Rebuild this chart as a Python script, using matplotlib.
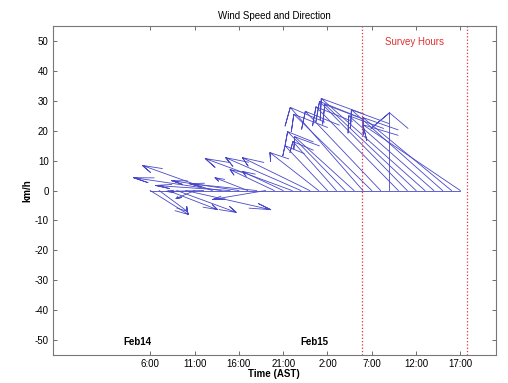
import numpy as np
import matplotlib
matplotlib.use("Agg")
import matplotlib.pyplot as plt

plt.rcParams['font.family'] = ['Liberation Sans', 'DejaVu Sans']
plt.rcParams['axes.unicode_minus'] = False

# hours since Feb14 00:00 (AST) where each feather starts on the zero line
hours = [6, 7, 8, 9, 10, 11, 12, 13, 14, 15, 16, 17, 18, 19, 20, 21, 22, 23,
         24, 25, 26, 27, 28, 29, 30, 31, 32, 33, 34, 35, 36, 37, 38, 39, 40, 41]
# east component (drawn in hour units) and north component, km/h
u = [4.3, 3.2, 5.6, 6.7, 9.6, -2.1, -4.2, -7.9, -9.9, -8.4, -7.6, -3.7,
     -7.6, -6.0, -5.0, -4.6, -9.8, -8.5, -7.6, -5.5, -4.8, -4.9, -6.5,
     -6.7, -8.2, -8.8, -8.5, 0.0, -9.3, -9.9, -10.3, -11.7, -9.6, -10.3, -10.0, -11.0]
v = [-8.0, -7.0, -6.4, -7.3, -6.4, -2.7, -0.3, 8.4, 4.3, 1.7, 3.3, 4.3,
     2.3, -3.0, 7.0, 6.4, 10.7, 11.0, 11.0, 12.7, 15.0, 16.4, 19.7,
     18.0, 27.8, 25.5, 26.5, 26.0, 28.0, 29.8, 28.8, 30.8, 25.0, 27.0, 24.4, 22.0]

survey = [29.9, 41.8]
tick_pos = [6, 11, 16, 21, 26, 31, 36, 41]
tick_lab = ["6:00", "11:00", "16:00", "21:00", "2:00", "7:00", "12:00", "17:00"]
day_pos = [4.6, 24.5]
day_lab = ["Feb14", "Feb15"]

fig = plt.figure(figsize=(5.08, 3.83), dpi=100)
ax = fig.add_axes([0.104, 0.073, 0.872, 0.859])

# feather arrows, MATLAB style head
shape = np.array([0, 1, 0.8 + 0.08j, 1, 0.8 - 0.08j])
for h, uu, vv in zip(hours, u, v):
    z = shape * complex(uu, vv)
    ax.plot(h + z.real, z.imag, color="#4848c8", lw=0.6)
ax.plot([min(hours), max(hours)], [0, 0], color="#4848c8", lw=0.6)

for s in survey:
    ax.axvline(s, color="#e03030", ls=":", lw=0.9)
ax.text(np.mean(survey), 49.5, "Survey Hours", color="#e03030", ha="center",
        va="center", fontsize=7)
for p, l in zip(day_pos, day_lab):
    ax.text(p, -50.5, l, ha="center", va="center", fontsize=7, fontweight="bold")

ax.set_xlim(-5, 45)
ax.set_ylim(-55, 55)
ax.set_xticks(tick_pos)
ax.set_xticklabels(tick_lab)
ax.set_yticks(np.arange(-50, 51, 10))
ax.tick_params(direction="in", top=True, right=True, labelsize=7, length=3,
               width=0.6, color="#555555", pad=3)
for sp in ax.spines.values():
    sp.set_color("#777777")
    sp.set_linewidth(0.8)
ax.set_title("Wind Speed and Direction", fontsize=7, pad=5)
ax.set_xlabel("Time (AST)", fontsize=7, fontweight="bold", labelpad=0)
ax.set_ylabel("km/h", fontsize=7, fontweight="bold", labelpad=2)

fig.savefig("out.png", dpi=100)
